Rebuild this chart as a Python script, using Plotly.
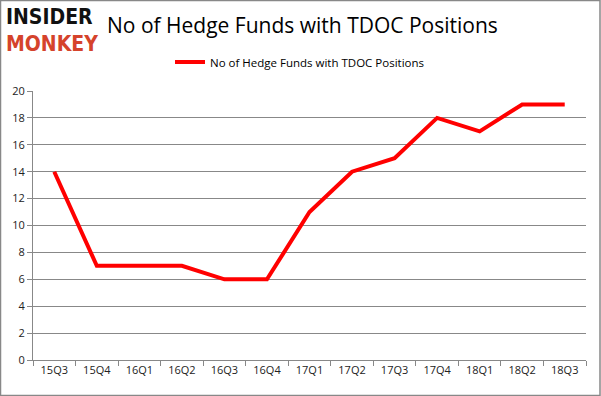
import plotly.graph_objects as go

quarters = ["15Q3", "15Q4", "16Q1", "16Q2", "16Q3", "16Q4", "17Q1", "17Q2", "17Q3", "17Q4", "18Q1", "18Q2", "18Q3"]
funds = [14, 7, 7, 7, 6, 6, 11, 14, 15, 18, 17, 19, 19]
series_name = "No of Hedge Funds with TDOC Positions"
y_ticks = list(range(0, 21, 2))

W, H = 601, 396
L, R, T, B = 33, 15, 91, 36
pw, ph = W - L - R, H - T - B

def px(x):
    return (x - L) / pw

def py(y):
    return (H - B - y) / ph

fig = go.Figure()
fig.add_trace(go.Scatter(
    x=quarters, y=funds, mode="lines", name=series_name,
    line=dict(color="#ff0000", width=4),
))

fig.update_layout(
    width=W, height=H,
    margin=dict(l=L, r=R, t=T, b=B, autoexpand=False),
    paper_bgcolor="white", plot_bgcolor="white",
    font=dict(family="Open Sans, Liberation Sans, sans-serif", size=11, color="#222222"),
    showlegend=True,
    legend=dict(orientation="h", x=px(300), xanchor="center", y=py(62), yanchor="middle",
                font=dict(size=11.5, color="#000000"), bgcolor="rgba(0,0,0,0)"),
    xaxis=dict(type="category", range=[-0.5, len(quarters) - 0.5], automargin=False,
               showgrid=False, showline=True, linecolor="#888888", linewidth=1,
               ticks="outside", tickson="boundaries", ticklen=5, tickcolor="#888888",
               tickfont=dict(size=11, color="#222222")),
    yaxis=dict(range=[0, 20], tickvals=y_ticks, showgrid=True, gridcolor="#888888", gridwidth=1,
               automargin=False, showline=True, linecolor="#888888", linewidth=1,
               ticks="outside", ticklen=5, tickcolor="#888888", zeroline=False,
               tickfont=dict(size=11, color="#222222")),
    annotations=[
        dict(text="No of Hedge Funds with TDOC Positions", x=px(302), y=py(25),
             xref="paper", yref="paper", showarrow=False, xanchor="center", yanchor="middle",
             font=dict(size=21, color="#000000", family="Open Sans, Liberation Sans, sans-serif")),
        dict(text="<b>INSIDER</b><br><span style='color:#d5432b'><b>MONKEY</b></span>",
             x=px(4), y=py(31), xref="paper", yref="paper",
             showarrow=False, xanchor="left", yanchor="middle", align="left",
             font=dict(size=21, color="#111111", family="DejaVu Sans Condensed, DejaVu Sans")),
    ],
    shapes=[
        dict(type="rect", xref="paper", yref="paper", x0=px(0.5), x1=px(600), y0=py(395.5), y1=py(0.5),
             line=dict(color="#888888", width=1.5), fillcolor="rgba(0,0,0,0)", layer="below"),
    ],
)

fig.write_html("out.html", config={"displayModeBar": False},
               post_script="document.body.style.margin='0';document.body.style.padding='0';window.dispatchEvent(new Event('resize'));")
